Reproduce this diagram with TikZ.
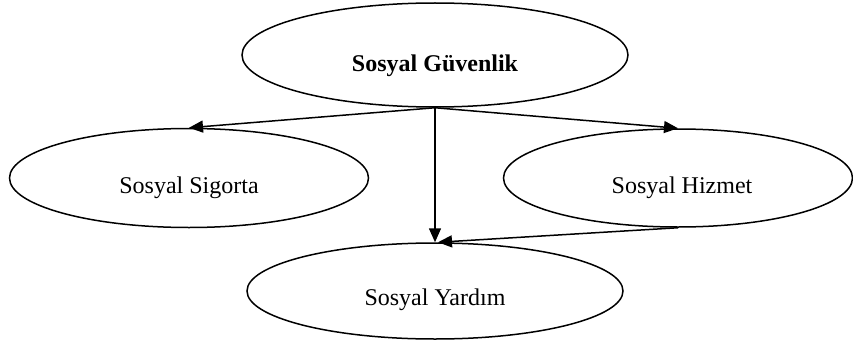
\documentclass[tikz,border=0pt]{standalone}
\usepackage{fontspec}
\setmainfont{Liberation Serif}
\usetikzlibrary{arrows.meta,shapes.geometric}
\begin{document}
\begin{tikzpicture}[x=1pt,y=-1pt,
  oval/.style={draw=black,line width=1.5pt,ellipse,inner sep=0pt},
  lbl/.style={anchor=base,inner sep=0pt,font=\fontsize{24}{28}\selectfont},
  conn/.style={line width=1.5pt,-{Triangle[length=14pt,width=12pt]}}]
\useasboundingbox (0,0) rectangle (853,345);
\node[oval,minimum width=386pt,minimum height=104pt] (top) at (435,55) {};
\node[oval,minimum width=359pt,minimum height=99pt] (left) at (189,178) {};
\node[oval,minimum width=349pt,minimum height=98pt] (right) at (678,178) {};
\node[oval,minimum width=376pt,minimum height=96pt] (bot) at (435,291) {};
\node[lbl,font=\fontsize{24}{28}\selectfont\bfseries] (ttop) at (435,71) {Sosyal Güvenlik};
\node[lbl] (tleft) at (189,193) {Sosyal Sigorta};
\node[lbl] (tright) at (682,193) {Sosyal Hizmet};
\node[lbl] (tbot) at (435,305) {Sosyal Yardım};
\draw[conn] (top.south) -- (left.north);
\draw[conn] (top.south) -- (right.north);
\draw[conn] (top.south) -- (bot.north);
\draw[conn] (right.south) -- ([xshift=3pt]bot.north);
\end{tikzpicture}
\end{document}
